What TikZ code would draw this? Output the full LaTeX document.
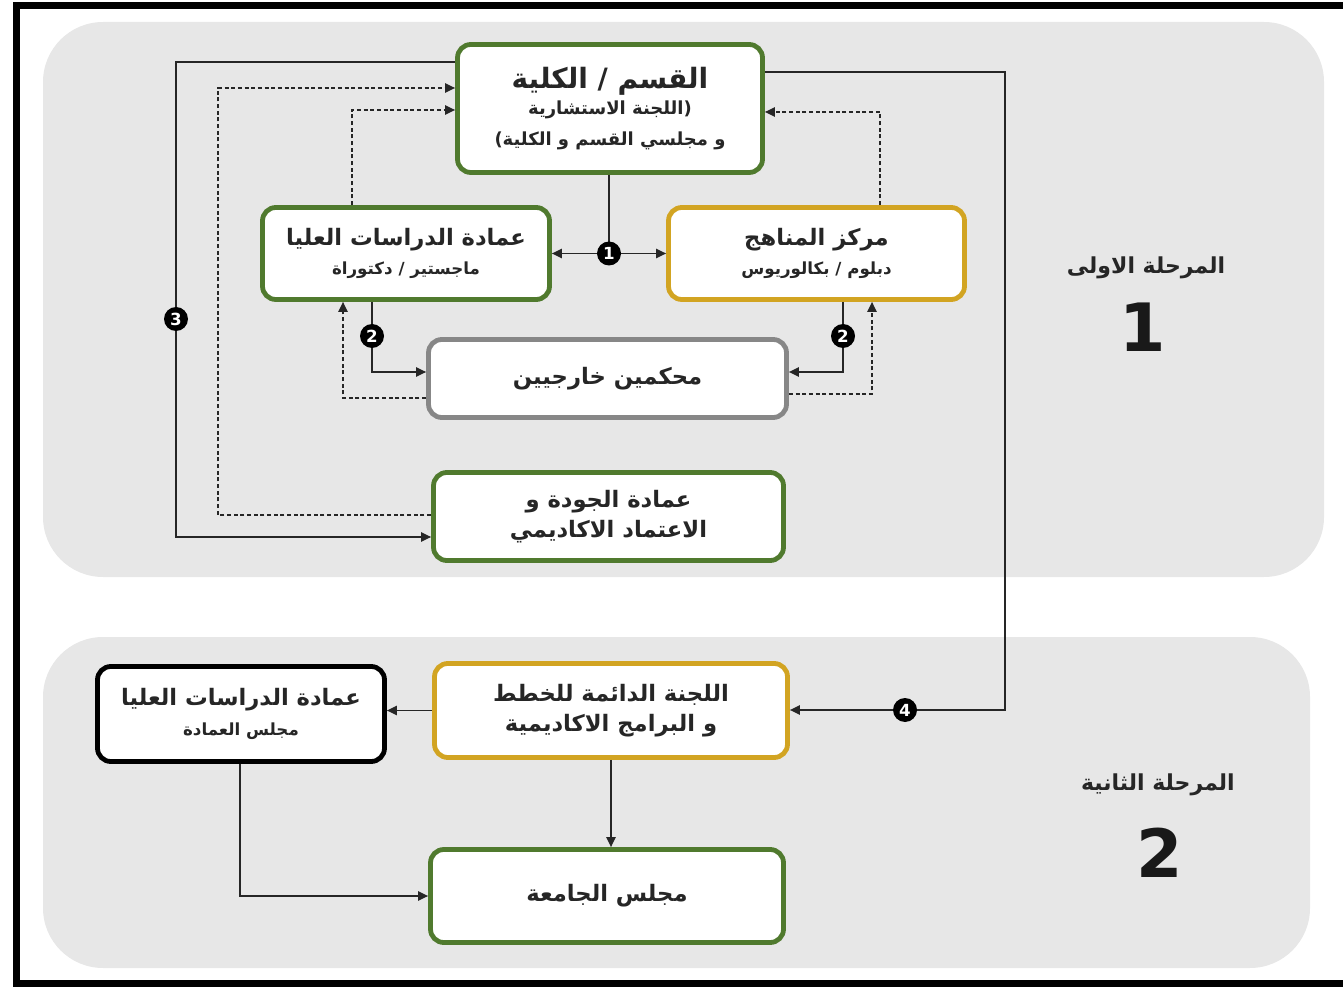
\documentclass[tikz,border=0pt]{standalone}
\usepackage{fontspec}
\setmainfont{DejaVu Sans}
\newfontfamily\arfont[Script=Arabic]{DejaVu Sans}
\TeXXeTstate=1
\usetikzlibrary{arrows.meta}
\newdimen\px \px=0.75pt
\newcommand{\AR}[1]{{\arfont\beginR #1\endR}}
\definecolor{panelgray}{RGB}{231,231,231}
\definecolor{boxgreen}{RGB}{80,122,46}
\definecolor{boxgold}{RGB}{210,164,34}
\definecolor{boxgray}{RGB}{135,135,135}
\tikzset{
  box/.style={draw, line width=3.6pt, rounded corners=10pt, fill=white, align=center, inner sep=0pt, text=black!85},
  greenbox/.style={box, draw=boxgreen},
  goldbox/.style={box, draw=boxgold},
  graybox/.style={box, draw=boxgray},
  blackbox/.style={box, draw=black},
  conn/.style={line width=1.1pt, draw=black!85},
  dconn/.style={conn, dash pattern=on 3pt off 2pt},
  tip/.style={-{Triangle[length=7.5pt,width=7pt]}},
  badge/.style={circle, fill=black, text=white, inner sep=0pt, minimum size=24\px, font=\bfseries\fontsize{12.5}{12.5}\selectfont},
  mainf/.style={font=\bfseries\fontsize{17}{22}\selectfont},
  subf/.style={font=\bfseries\fontsize{12.5}{15}\selectfont},
  stagef/.style={font=\bfseries\fontsize{16.5}{18}\selectfont, text=black!85},
  numf/.style={font=\bfseries\fontsize{50}{50}\selectfont, text=black!90}
}
\begin{document}
\begin{tikzpicture}[x=0.75pt, y=-0.75pt]
\useasboundingbox (0,0) rectangle (1343,987);
% panels
\fill[panelgray, rounded corners=45pt] (43,22) rectangle (1324,577);
\fill[panelgray, rounded corners=45pt] (43,637) rectangle (1310,968);
% frame
\draw[line width=5.25pt] (1343,6) -- (16.5,6) -- (16.5,983.5) -- (1343,983.5);

% boxes
\node[greenbox, minimum width=305\px, minimum height=128\px, font=\bfseries\fontsize{13.5}{16}\selectfont] (top) at (610,108.5)
  {{\fontsize{21}{24}\selectfont\AR{القسم / الكلية}}\\[4pt]
   \AR{(اللجنة الاستشارية}\\[7pt]
   \AR{و مجلسي القسم و الكلية)}};
\node[greenbox, minimum width=287\px, minimum height=92\px, subf] (gs) at (406,253.5)
  {{\fontsize{17}{20}\selectfont\AR{عمادة  الدراسات العليا}}\\[7pt]
   \AR{ماجستير / دكتوراة}};
\node[goldbox, minimum width=296\px, minimum height=92\px, subf] (cur) at (816.5,253.5)
  {{\fontsize{17}{20}\selectfont\AR{مركز المناهج}}\\[7pt]
   \AR{دبلوم / بكالوريوس}};
\node[graybox, minimum width=358\px, minimum height=78\px, mainf] (ext) at (607.5,378.5)
  {\AR{محكمين خارجيين}};
\node[greenbox, minimum width=350\px, minimum height=88\px, mainf] (qual) at (608.5,516.5)
  {\AR{عمادة الجودة و}\\\AR{الاعتماد الاكاديمي}};
\node[blackbox, minimum width=287\px, minimum height=95\px, subf] (gs2) at (241,714)
  {{\fontsize{17}{20}\selectfont\AR{عمادة  الدراسات العليا}}\\[8pt]
   \AR{مجلس العمادة}};
\node[goldbox, minimum width=353\px, minimum height=94\px, mainf] (perm) at (611,710.5)
  {\AR{اللجنة الدائمة للخطط}\\\AR{و البرامج الاكاديمية}};
\node[greenbox, minimum width=353\px, minimum height=93\px, mainf] (univ) at (607,896)
  {\AR{مجلس الجامعة}};

% stage labels
\node[stagef] (s1) at (1146,268) {\AR{المرحلة الاولى}};
\node[numf] (n1) at (1143,327) {1};
\node[stagef] (s2) at (1158,785) {\AR{المرحلة الثانية}};
\node[numf] (n2) at (1160,853) {2};

% coordinates
\coordinate (b1) at (609,253.5);
\coordinate (l2a) at (372,372);
\coordinate (l2d) at (343,398);
\coordinate (r2a) at (843,372);
\coordinate (r2d) at (872,394);
\coordinate (l3d) at (352,110);
\coordinate (r3d) at (880,112);
\coordinate (s3a) at (176,62);
\coordinate (s3b) at (176,537);
\coordinate (d3a) at (218,515);
\coordinate (d3b) at (218,88);
\coordinate (s4a) at (1005,72);
\coordinate (s4b) at (1005,710);
\coordinate (g2c) at (240,896);

% (1)
\draw[conn] (b1 |- top.south) -- (b1);
\draw[conn, {Triangle[length=7.5pt,width=7pt]}-{Triangle[length=7.5pt,width=7pt]}] (gs.east) -- (cur.west);
% (2) left
\draw[conn, tip] (l2a |- gs.south) -- (l2a) -- (l2a -| ext.west);
\draw[dconn, tip] (l2d -| ext.west) -- (l2d) -- (l2d |- gs.south);
% (2) right
\draw[conn, tip] (r2a |- cur.south) -- (r2a) -- (r2a -| ext.east);
\draw[dconn, tip] (r2d -| ext.east) -- (r2d) -- (r2d |- cur.south);
% dashed returns to top
\draw[dconn, tip] (l3d |- gs.north) -- (l3d) -- (l3d -| top.west);
\draw[dconn, tip] (r3d |- cur.north) -- (r3d) -- (r3d -| top.east);
% (3)
\draw[conn, tip] (s3a -| top.west) -- (s3a) -- (s3b) -- (s3b -| qual.west);
\draw[dconn, tip] (d3a -| qual.west) -- (d3a) -- (d3b) -- (d3b -| top.west);
% (4)
\draw[conn, tip] (s4a -| top.east) -- (s4a) -- (s4b) -- (s4b -| perm.east);
\draw[conn, tip] (perm.west) -- (perm.west -| gs2.east);
\draw[conn, tip] (perm.south) -- (perm.south |- univ.north);
\draw[conn, tip] (g2c |- gs2.south) -- (g2c) -- (g2c -| univ.west);

% badges
\node[badge] (k1) at (b1) {1};
\node[badge] (k2l) at (372,336) {2};
\node[badge] (k2r) at (843,336) {2};
\node[badge] (k3) at (176,319) {3};
\node[badge] (k4) at (905,710) {4};
\end{tikzpicture}
\end{document}
